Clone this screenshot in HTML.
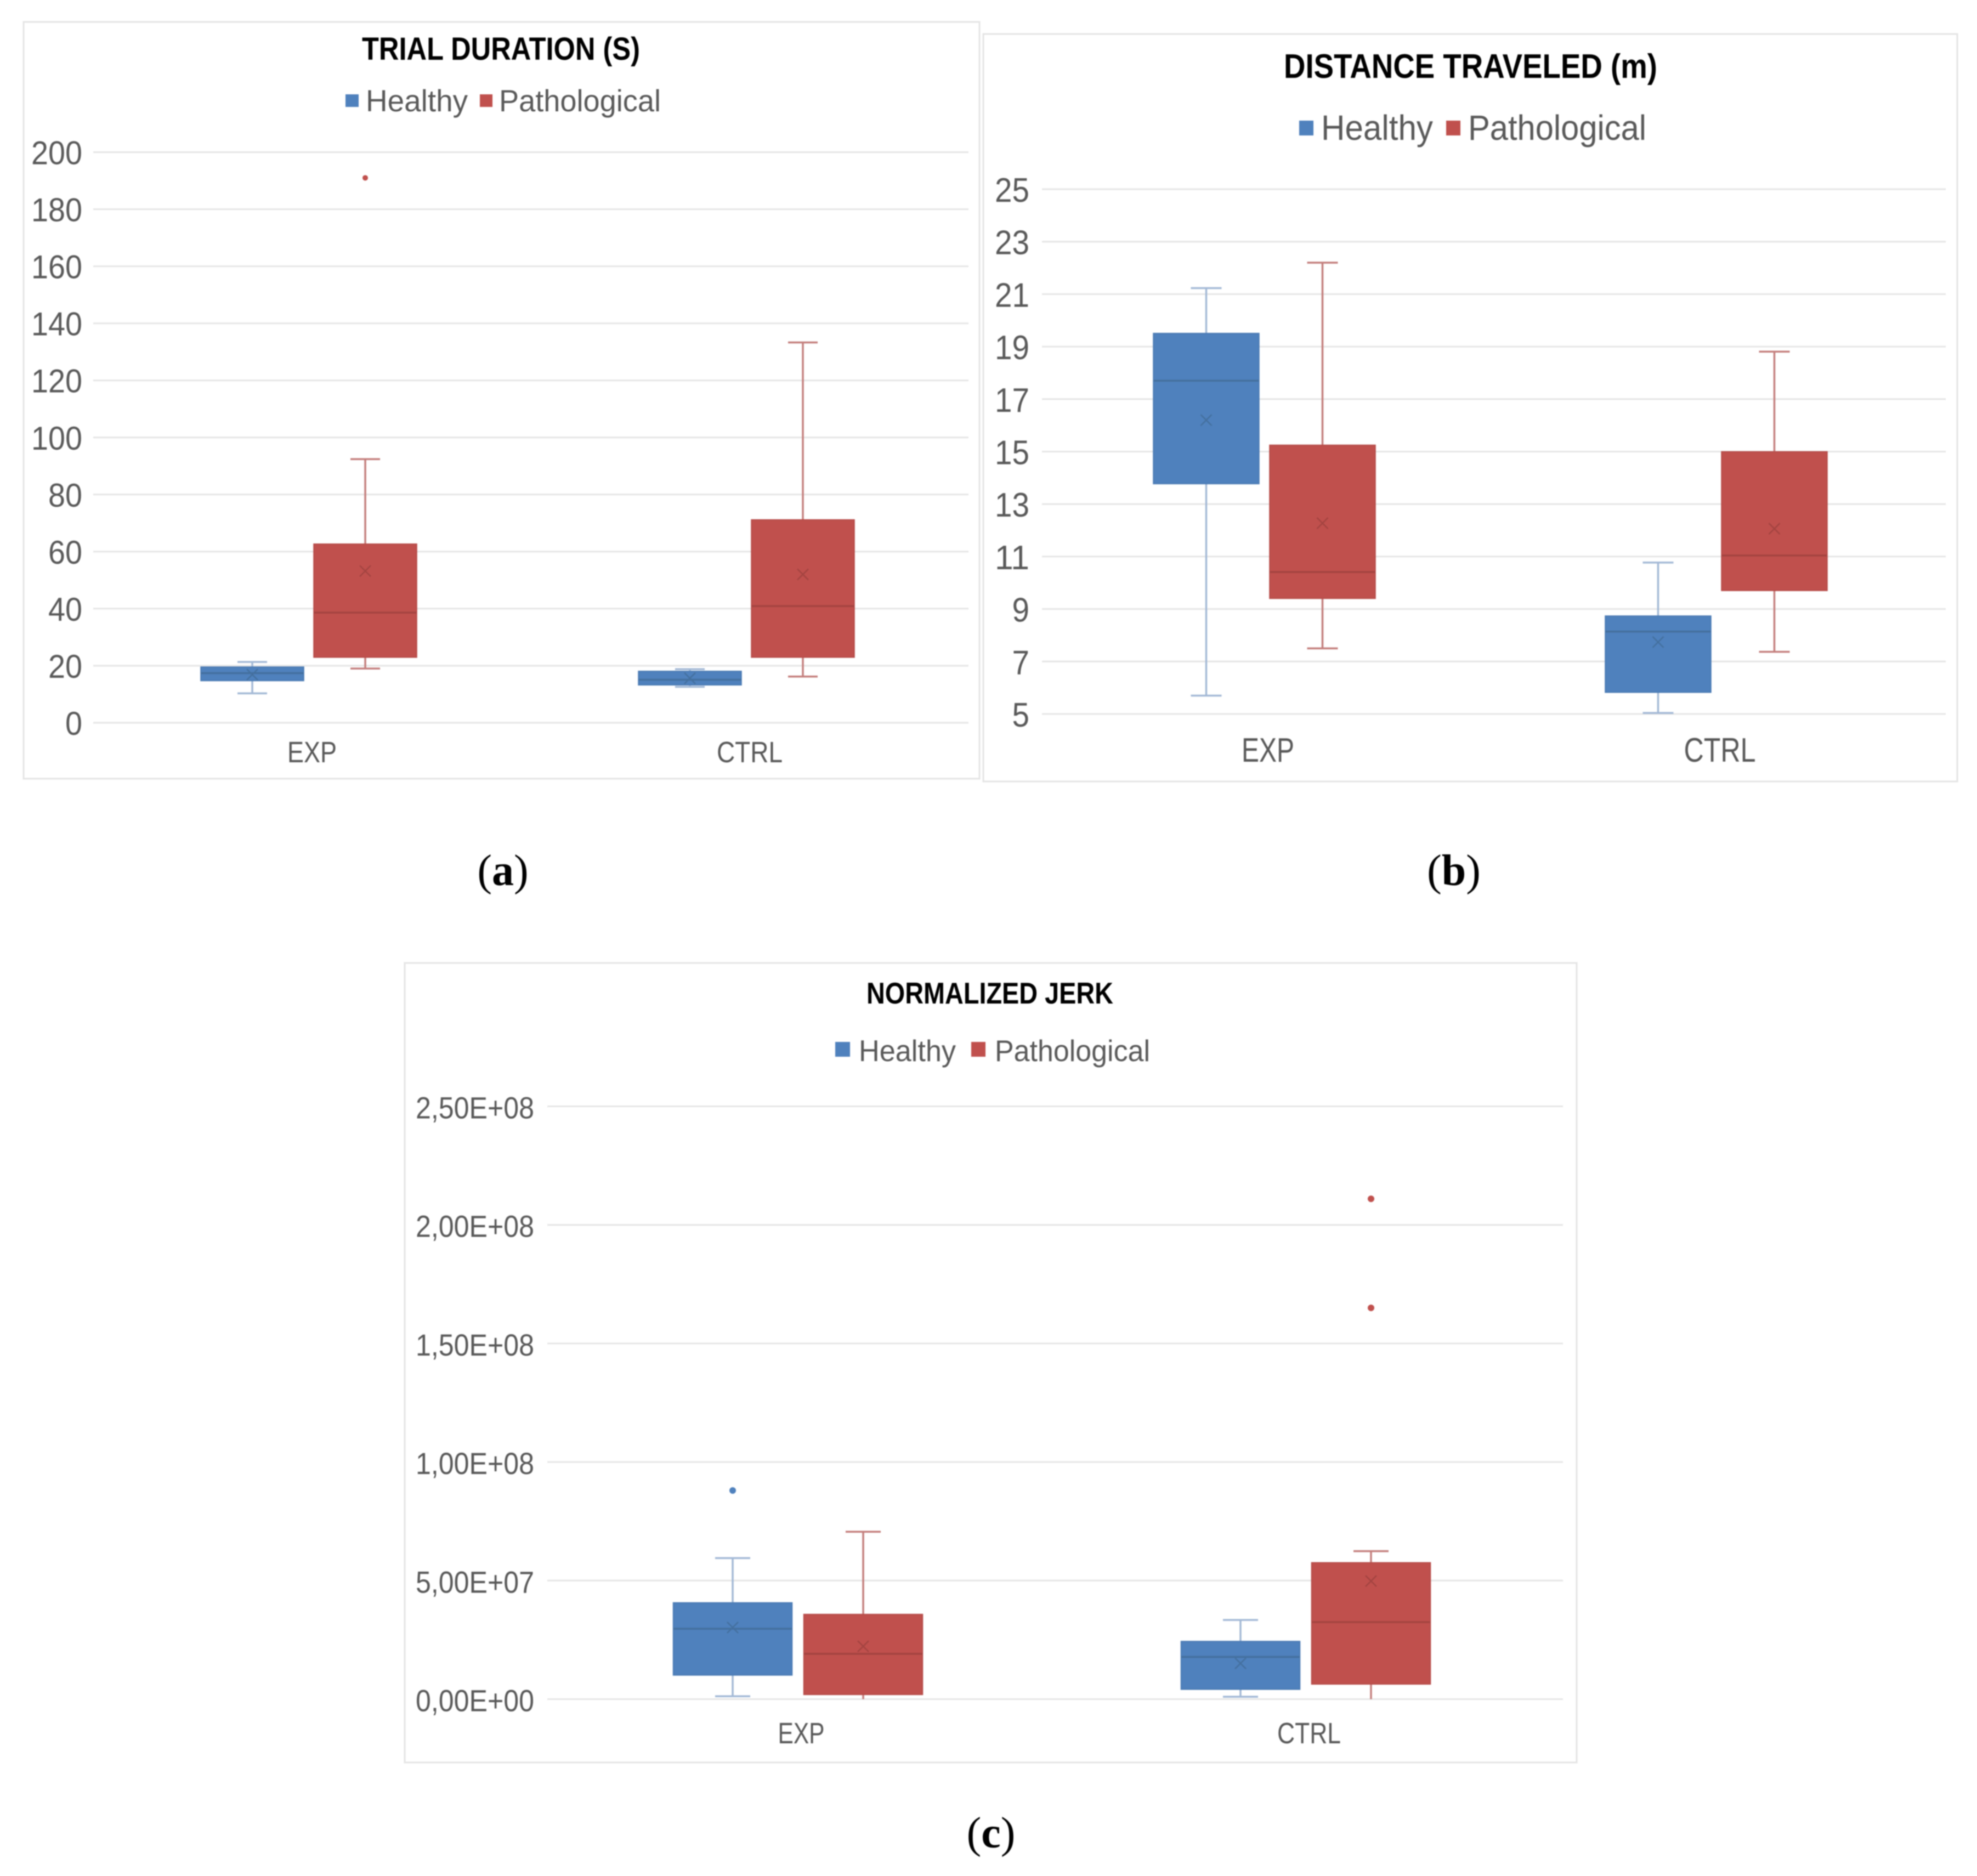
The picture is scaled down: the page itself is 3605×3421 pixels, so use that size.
<!DOCTYPE html>
<html lang="en">
<head>
<meta charset="utf-8">
<title>Box plots: trial duration, distance traveled, normalized jerk</title>
<style>
html,body{margin:0;padding:0;background:#fff}
body{width:3605px;height:3421px;overflow:hidden}
#figure{display:block;filter:blur(1.1px)}
text{font-family:"Liberation Sans",sans-serif;fill:#595959}
.title{font-weight:bold;fill:#000}
.caption{font-family:"Liberation Serif",serif;fill:#000;font-size:80px;text-anchor:middle}
.caption tspan{font-weight:bold}
.frame{fill:#fff;stroke:#e4e4e4;stroke-width:3}
</style>
</head>
<body>
<svg id="figure" xmlns="http://www.w3.org/2000/svg" width="3605" height="3421" viewBox="0 0 3605 3421">
  <g id="chart-a">
    <rect class="frame" x="43" y="40" width="1743" height="1380"/>
    <text class="title" x="660" y="109" font-size="58" textLength="507" lengthAdjust="spacingAndGlyphs">TRIAL DURATION (S)</text>
    <rect x="630" y="172" width="24" height="23" fill="#4F81BD"/>
    <text x="667" y="203" font-size="56" textLength="186" lengthAdjust="spacingAndGlyphs">Healthy</text>
    <rect x="875" y="172" width="23" height="23" fill="#C0504D"/>
    <text x="910" y="203" font-size="56" textLength="295" lengthAdjust="spacingAndGlyphs">Pathological</text>
  </g>
  <g id="chart-b">
    <rect class="frame" x="1793" y="62" width="1776" height="1363"/>
    <text class="title" x="2341" y="142" font-size="62" textLength="681" lengthAdjust="spacingAndGlyphs">DISTANCE TRAVELED (m)</text>
    <rect x="2369" y="220" width="26" height="27" fill="#4F81BD"/>
    <text x="2409" y="255" font-size="64" textLength="204" lengthAdjust="spacingAndGlyphs">Healthy</text>
    <rect x="2637" y="220" width="26" height="27" fill="#C0504D"/>
    <text x="2677" y="255" font-size="64" textLength="325" lengthAdjust="spacingAndGlyphs">Pathological</text>
  </g>
  <g id="chart-c">
    <rect class="frame" x="738" y="1756" width="2137" height="1458"/>
    <text class="title" x="1580" y="1830" font-size="55" textLength="450" lengthAdjust="spacingAndGlyphs">NORMALIZED JERK</text>
    <rect x="1523" y="1900" width="27" height="27" fill="#4F81BD"/>
    <text x="1566" y="1935" font-size="55" textLength="177" lengthAdjust="spacingAndGlyphs">Healthy</text>
    <rect x="1771" y="1900" width="26" height="27" fill="#C0504D"/>
    <text x="1814" y="1935" font-size="55" textLength="283" lengthAdjust="spacingAndGlyphs">Pathological</text>
  </g>
  <text class="caption" x="917" y="1614">(<tspan>a</tspan>)</text>
  <text class="caption" x="2651" y="1614">(<tspan>b</tspan>)</text>
  <text class="caption" x="1807" y="3369">(<tspan>c</tspan>)</text>
</svg>
<script>
// ---- Trial duration (s) ----
const trialCategories = ['EXP', 'CTRL'];
const trialTicks = [0, 20, 40, 60, 80, 100, 120, 140, 160, 180, 200];
const trialTickLabels = ['0', '20', '40', '60', '80', '100', '120', '140', '160', '180', '200'];
const trialHealthyMin = [10.3, 12.6];
const trialHealthyQ1 = [14.8, 13.3];
const trialHealthyMedian = [17.4, 15.1];
const trialHealthyQ3 = [19.5, 18];
const trialHealthyMax = [21.3, 18.8];
const trialHealthyMean = [16.9, 15.6];
const trialHealthyOutliers = [[], []];
const trialPathMin = [19, 16.2];
const trialPathQ1 = [23, 23];
const trialPathMedian = [38.6, 40.9];
const trialPathQ3 = [62.6, 71.1];
const trialPathMax = [92.4, 133.3];
const trialPathMean = [53.2, 52];
const trialPathOutliers = [[191], []];

// ---- Distance traveled (m) ----
const distanceCategories = ['EXP', 'CTRL'];
const distanceTicks = [5, 7, 9, 11, 13, 15, 17, 19, 21, 23, 25];
const distanceTickLabels = ['5', '7', '9', '11', '13', '15', '17', '19', '21', '23', '25'];
const distanceHealthyMin = [5.7, 5.04];
const distanceHealthyQ1 = [13.78, 5.83];
const distanceHealthyMedian = [17.7, 8.14];
const distanceHealthyQ3 = [19.5, 8.73];
const distanceHealthyMax = [21.23, 10.77];
const distanceHealthyMean = [16.2, 7.74];
const distanceHealthyOutliers = [[], []];
const distancePathMin = [7.5, 7.37];
const distancePathQ1 = [9.41, 9.71];
const distancePathMedian = [10.41, 11.04];
const distancePathQ3 = [15.24, 14.99];
const distancePathMax = [22.2, 18.81];
const distancePathMean = [12.27, 12.06];
const distancePathOutliers = [[], []];

// ---- Normalized jerk ----
const jerkCategories = ['EXP', 'CTRL'];
const jerkTicks = [0, 5e7, 1e8, 1.5e8, 2e8, 2.5e8];
const jerkTickLabels = ['0,00E+00', '5,00E+07', '1,00E+08', '1,50E+08', '2,00E+08', '2,50E+08'];
const jerkHealthyMin = [0.12e7, 0.1e7];
const jerkHealthyQ1 = [1.02e7, 0.42e7];
const jerkHealthyMedian = [2.97e7, 1.78e7];
const jerkHealthyQ3 = [4.06e7, 2.43e7];
const jerkHealthyMax = [5.95e7, 3.34e7];
const jerkHealthyMean = [3.02e7, 1.51e7];
const jerkHealthyOutliers = [[8.8e7], []];
const jerkPathMin = [0, 0];
const jerkPathQ1 = [0.2e7, 0.64e7];
const jerkPathMedian = [1.91e7, 3.25e7];
const jerkPathQ3 = [3.57e7, 5.75e7];
const jerkPathMax = [7.06e7, 6.24e7];
const jerkPathMean = [2.23e7, 4.98e7];
const jerkPathOutliers = [[], [16.5e7, 21.1e7]];

const SVGNS = 'http://www.w3.org/2000/svg';
const SERIES_STYLE = {
  healthy: { fill: '#4F81BD', edge: '#4c7cb5', whisker: '#a3b9d6', median: '#44709f', mean: '#44709f', dot: '#4F81BD' },
  pathological: { fill: '#C0504D', edge: '#b84d4a', whisker: '#c47f7d', median: '#a44441', mean: '#a44441', dot: '#C0504D' }
};

function mk(parent, tag, attrs) {
  const el = document.createElementNS(SVGNS, tag);
  for (const key in attrs) el.setAttribute(key, attrs[key]);
  parent.appendChild(el);
  return el;
}

function drawBox(group, cx, layout, yScale, style, min, q1, median, q3, max, mean, outliers) {
  const half = layout.boxWidth / 2;
  const whisker = mk(group, 'line', { x1: cx, x2: cx, y1: yScale(max), y2: yScale(min), stroke: style.whisker, 'stroke-width': 3.5 });
  
  
  const capTop = mk(group, 'line', { x1: cx - layout.cap, x2: cx + layout.cap, y1: yScale(max), y2: yScale(max), stroke: style.whisker, 'stroke-width': 3.5 });
  
  
  if (yScale(min) < layout.bottom - 1) {
    const capBottom = mk(group, 'line', { x1: cx - layout.cap, x2: cx + layout.cap, y1: yScale(min), y2: yScale(min), stroke: style.whisker, 'stroke-width': 3.5 });
    
    
  }
  const box = mk(group, 'rect', { x: cx - half, y: yScale(q3), width: layout.boxWidth, height: yScale(q1) - yScale(q3), fill: style.fill, stroke: style.edge, 'stroke-width': 2.5 });
  
  
  const medianLine = mk(group, 'line', { x1: cx - half, x2: cx + half, y1: yScale(median), y2: yScale(median), stroke: style.median, 'stroke-width': 3.5 });
  
  
  const my = yScale(mean);
  const meanMark = mk(group, 'path', { d: 'M' + (cx - 10) + ' ' + (my - 10) + 'L' + (cx + 10) + ' ' + (my + 10) + 'M' + (cx + 10) + ' ' + (my - 10) + 'L' + (cx - 10) + ' ' + (my + 10), stroke: style.mean, 'stroke-width': 2.5, fill: 'none' });
  
  
  outliers.forEach(function (value) {
    const dot = mk(group, 'circle', { cx: cx, cy: yScale(value), r: layout.dotRadius, fill: style.dot });
    
    
  });
}

function drawChart(groupId, layout, categories, ticks, tickLabels, healthy, pathological) {
  const group = document.getElementById(groupId);
  const domainMin = ticks[0];
  const domainMax = ticks[ticks.length - 1];
  const yScale = function (v) { return layout.bottom + (v - domainMin) / (domainMax - domainMin) * (layout.top - layout.bottom); };
  const bandWidth = (layout.right - layout.left) / categories.length;
  const xScale = function (i) { return layout.left + bandWidth * (i + 0.5); };

  ticks.forEach(function (tick, i) {
    const y = yScale(tick);
    const grid = mk(group, 'line', { x1: layout.left, x2: layout.right, y1: y, y2: y, stroke: '#e6e6e6', 'stroke-width': 3 });
    
    
    const tickText = tickLabels[i];
    const attrs = { x: layout.labelRight, y: y + layout.tickBaseline, 'font-size': layout.tickFont, 'text-anchor': 'end', textLength: layout.tickCharWidth * tickText.length, lengthAdjust: 'spacingAndGlyphs' };
    const label = mk(group, 'text', attrs);
    label.textContent = tickText;
    
    
  });

  categories.forEach(function (category, i) {
    const cx = xScale(i);
    const length = category.length === 3 ? layout.catLengthShort : layout.catLengthLong;
    const label = mk(group, 'text', { x: cx - length / 2, y: layout.catBaseline, 'font-size': layout.catFont, textLength: length, lengthAdjust: 'spacingAndGlyphs' });
    label.textContent = category;
    
    
    drawBox(group, cx + layout.healthyOffset, layout, yScale, SERIES_STYLE.healthy,
      healthy.min[i], healthy.q1[i], healthy.median[i], healthy.q3[i], healthy.max[i], healthy.mean[i], healthy.outliers[i]);
    drawBox(group, cx + layout.pathOffset, layout, yScale, SERIES_STYLE.pathological,
      pathological.min[i], pathological.q1[i], pathological.median[i], pathological.q3[i], pathological.max[i], pathological.mean[i], pathological.outliers[i]);
  });
}

drawChart('chart-a',
  { left: 170, right: 1766, top: 277.5, bottom: 1318, labelRight: 150, tickFont: 60, tickCharWidth: 31, tickBaseline: 22, catFont: 54, catBaseline: 1390, catLengthShort: 90, catLengthLong: 120, healthyOffset: -109, pathOffset: 97, boxWidth: 187, cap: 27, dotRadius: 5 },
  trialCategories, trialTicks, trialTickLabels,
  { min: trialHealthyMin, q1: trialHealthyQ1, median: trialHealthyMedian, q3: trialHealthyQ3, max: trialHealthyMax, mean: trialHealthyMean, outliers: trialHealthyOutliers },
  { min: trialPathMin, q1: trialPathQ1, median: trialPathMedian, q3: trialPathQ3, max: trialPathMax, mean: trialPathMean, outliers: trialPathOutliers });

drawChart('chart-b',
  { left: 1900, right: 3548, top: 345, bottom: 1302, labelRight: 1877, tickFont: 62, tickCharWidth: 31.5, tickBaseline: 23, catFont: 62, catBaseline: 1389, catLengthShort: 96, catLengthLong: 131, healthyOffset: -112.5, pathOffset: 99.5, boxWidth: 192, cap: 28, dotRadius: 5 },
  distanceCategories, distanceTicks, distanceTickLabels,
  { min: distanceHealthyMin, q1: distanceHealthyQ1, median: distanceHealthyMedian, q3: distanceHealthyQ3, max: distanceHealthyMax, mean: distanceHealthyMean, outliers: distanceHealthyOutliers },
  { min: distancePathMin, q1: distancePathQ1, median: distancePathMedian, q3: distancePathQ3, max: distancePathMax, mean: distancePathMean, outliers: distancePathOutliers });

drawChart('chart-c',
  { left: 998, right: 2850, top: 2017.5, bottom: 3098.5, labelRight: 974, tickFont: 56, tickCharWidth: 27, tickBaseline: 22, catFont: 54, catBaseline: 3179, catLengthShort: 85, catLengthLong: 116, healthyOffset: -125, pathOffset: 113, boxWidth: 216, cap: 32, dotRadius: 6 },
  jerkCategories, jerkTicks, jerkTickLabels,
  { min: jerkHealthyMin, q1: jerkHealthyQ1, median: jerkHealthyMedian, q3: jerkHealthyQ3, max: jerkHealthyMax, mean: jerkHealthyMean, outliers: jerkHealthyOutliers },
  { min: jerkPathMin, q1: jerkPathQ1, median: jerkPathMedian, q3: jerkPathQ3, max: jerkPathMax, mean: jerkPathMean, outliers: jerkPathOutliers });
</script>
</body>
</html>
